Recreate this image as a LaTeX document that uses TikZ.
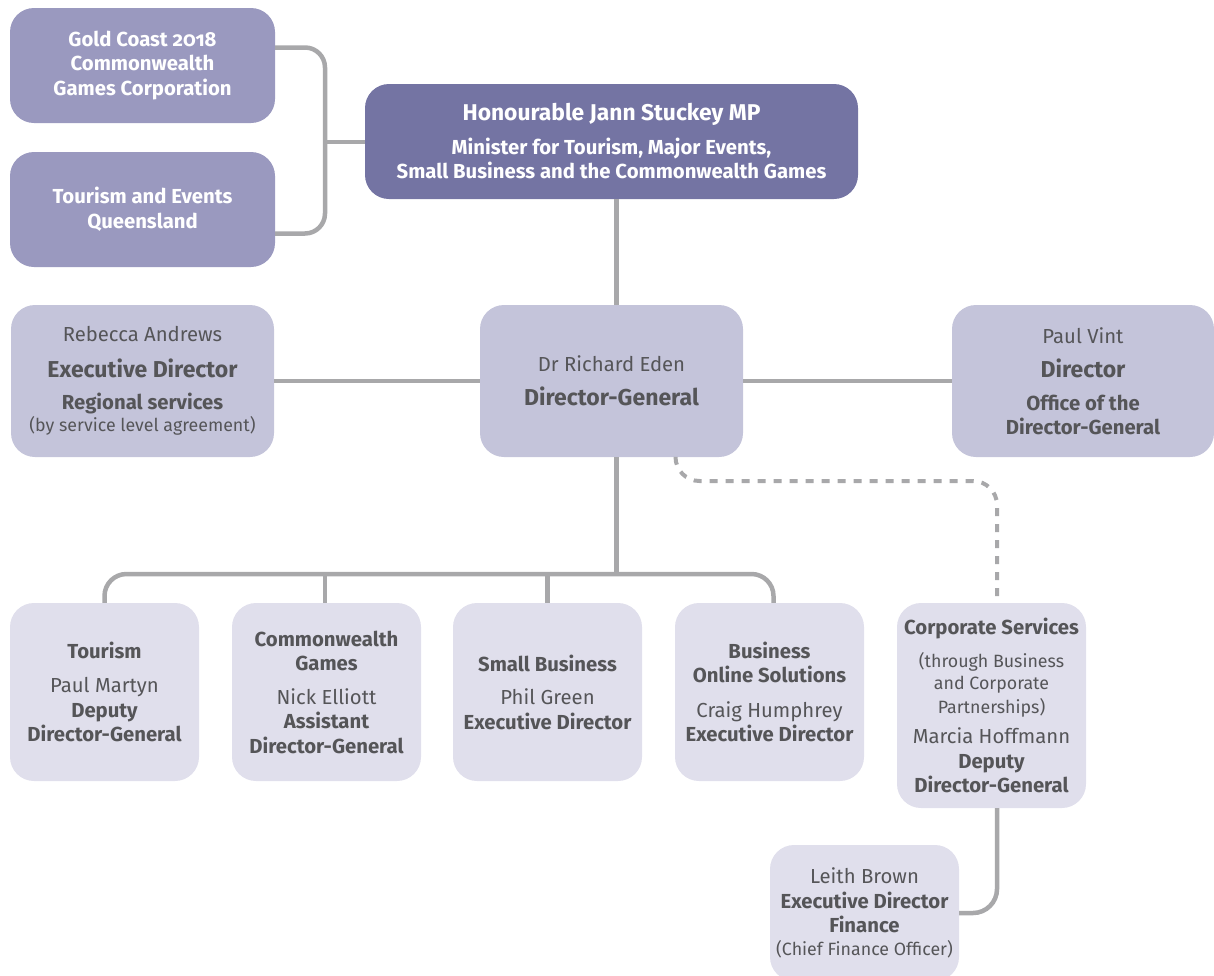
\documentclass[tikz,border=0pt]{standalone}
\usepackage{fontspec}
\setmainfont{Fira Sans}[Numbers=OldStyle]
\usepackage{tikz}
\usetikzlibrary{calc}
\usetikzlibrary{positioning}

\definecolor{ministerpurple}{RGB}{116,116,163}
\definecolor{boardpurple}{RGB}{154,153,191}
\definecolor{execlilac}{RGB}{196,196,218}
\definecolor{unitlilac}{RGB}{224,223,236}
\definecolor{linkgray}{RGB}{168,168,170}
\definecolor{inkgray}{RGB}{85,85,88}

\tikzset{
    card/.style={rounded corners=24pt, align=center, inner sep=0pt, text=inkgray,
        font=\fontsize{20.3}{24.5}\selectfont},
    boardcard/.style={card, fill=boardpurple, text=white, minimum width=265pt, minimum height=115pt},
    ministercard/.style={card, fill=ministerpurple, text=white, minimum width=493pt, minimum height=115pt},
    execcard/.style={card, fill=execlilac, minimum width=263pt, minimum height=152pt},
    unitcard/.style={card, fill=unitlilac, minimum width=189pt, minimum height=178pt},
    link/.style={draw=linkgray, line width=4.5pt},
    dottedlink/.style={link, line width=4pt, dash pattern=on 8pt off 8pt},
}

\newcommand{\bigtitle}[1]{{\fontsize{23}{24.5}\selectfont\bfseries #1}}
\newcommand{\smallnote}[1]{{\fontsize{17.8}{22}\selectfont #1}}

\begin{document}
\begin{tikzpicture}[x=1pt,y=-1pt]
        \useasboundingbox (0,0) rectangle (1214,975);

        % Boards and corporations
        \node[boardcard] (gcc) at (142.5,65.5) {\bfseries Gold Coast 2018\\ \bfseries Commonwealth\\ \bfseries Games Corporation};
        \node[boardcard] (teq) at (142.5,209.5) {\bfseries Tourism and Events\\ \bfseries Queensland};

        % Minister
        \node[ministercard] (min) at (611.5,141.5) {{\fontsize{22.8}{24.5}\selectfont\bfseries Honourable Jann Stuckey MP}\\[9pt]
            \bfseries Minister for Tourism, Major Events,\\ \bfseries Small Business and the Commonwealth Games};

        % Director-General and the offices beside it
        \node[execcard] (dg) at (611.5,381) {Dr Richard Eden\\[9pt] \bigtitle{Director-General}};
        \node[execcard] (reb) at (142.5,381) {Rebecca Andrews\\[11pt] \bigtitle{Executive Director}\\[8pt]
            {\bfseries Regional services}\\[-3pt] \smallnote{(by service level agreement)}};
        \node[execcard, minimum width=262pt] (pv) at (1083,381) {Paul Vint\\[10pt] \bigtitle{Director}\\[8pt]
            {\bfseries Office of the}\\ {\bfseries Director-General}};

        % Divisions
        \node[unitcard] (tou) at (104.5,692) {{\bfseries Tourism}\\[10pt] Paul Martyn\\ {\bfseries Deputy}\\ {\bfseries Director-General}};
        \node[unitcard] (cwg) at (326.5,692) {{\bfseries Commonwealth}\\ {\bfseries Games}\\[9pt] Nick Elliott\\
            {\bfseries Assistant}\\ {\bfseries Director-General}};
        \node[unitcard] (sbz) at (547.5,692) {{\bfseries Small Business}\\[9pt] Phil Green\\ {\bfseries Executive Director}};
        \node[unitcard] (bos) at (769.5,692) {{\bfseries Business}\\ {\bfseries Online Solutions}\\[10pt] Craig Humphrey\\
            {\bfseries Executive Director}};
        \node[unitcard, minimum height=205pt] (cor) at (991.5,705.5) {{\bfseries Corporate Services}\\[8pt]
            \smallnote{(through Business}\\[-2pt] \smallnote{and Corporate}\\[-1pt] \smallnote{Partnerships)}\\[6pt]
            Marcia Hoffmann\\ {\bfseries Deputy}\\ {\bfseries Director-General}};

        % Finance
        \node[unitcard, minimum height=136pt] (fin) at (864.5,913) {Leith Brown\\ {\bfseries Executive Director}\\
            {\bfseries Finance}\\[-2pt] \smallnote{(Chief Finance Officer)}};

        % Links to the minister
        \coordinate (bj) at (325,142);
        \draw[link, rounded corners=20pt] ([yshift=18pt]gcc.east) -| (bj) |- ([yshift=-24pt]teq.east);
        \draw[link] (bj) -- (min.west |- bj);
        \draw[link] ([xshift=5pt]min.south) -- ([xshift=5pt]dg.north);

        % Side offices
        \draw[link] (reb.east) -- (dg.west);
        \draw[link] (dg.east) -- (pv.west);

        % Bus to the divisions
        \coordinate (bus) at ([xshift=5pt]dg.south |- 0,574);
        \draw[link] ([xshift=5pt]dg.south) -- (bus);
        \draw[link, rounded corners=22pt] (tou.north) |- (bus) -| ([xshift=4pt]bos.north);
        \draw[link] ([xshift=-1.5pt]cwg.north) -- ([xshift=-1.5pt]cwg.north |- bus);
        \draw[link] (sbz.north) -- (sbz.north |- bus);

        % Corporate services
        \draw[dottedlink, rounded corners=24pt] ([xshift=64pt]dg.south) |- (800,481) -| ([xshift=5.5pt]cor.north);
        \draw[link, rounded corners=24pt] ([xshift=5.5pt]cor.south) |- (fin.east);
\end{tikzpicture}
\end{document}
